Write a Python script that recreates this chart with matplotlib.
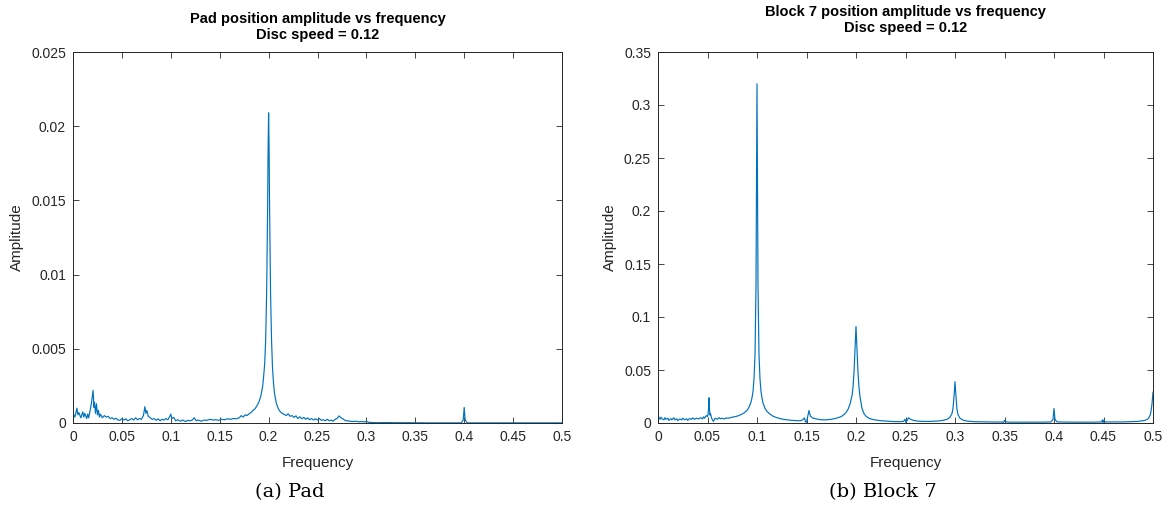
import matplotlib
matplotlib.use("Agg")
import matplotlib.pyplot as plt

# ---------------- data ----------------
pad_freq = [0.000, 0.002, 0.004, 0.005, 0.006, 0.008, 0.010, 0.011, 0.012, 0.014, 0.015, 0.016,
            0.018, 0.019, 0.0205, 0.0215, 0.022, 0.023, 0.024, 0.025, 0.026, 0.027, 0.028, 0.030,
            0.032, 0.034, 0.036, 0.038, 0.040, 0.042, 0.044, 0.046, 0.048, 0.050, 0.052, 0.054,
            0.056, 0.058, 0.060, 0.062, 0.064, 0.066, 0.068, 0.070, 0.072, 0.0735, 0.0745, 0.0755,
            0.077, 0.079, 0.081, 0.083, 0.085, 0.087, 0.089, 0.091, 0.093, 0.095, 0.097, 0.099,
            0.100, 0.101, 0.103, 0.105, 0.107, 0.110, 0.112, 0.115, 0.118, 0.120, 0.122, 0.124,
            0.126, 0.128, 0.131, 0.134, 0.137, 0.140, 0.143, 0.146, 0.149, 0.152, 0.155, 0.158,
            0.161, 0.164, 0.167, 0.170, 0.172, 0.174, 0.176, 0.178, 0.180, 0.182, 0.184, 0.186,
            0.188, 0.190, 0.192, 0.194, 0.195, 0.196, 0.197, 0.198, 0.199, 0.1995, 0.200, 0.2005,
            0.201, 0.202, 0.203, 0.204, 0.205, 0.206, 0.208, 0.210, 0.212, 0.214, 0.216, 0.218,
            0.220, 0.222, 0.224, 0.226, 0.228, 0.230, 0.232, 0.234, 0.236, 0.238, 0.240, 0.242,
            0.244, 0.246, 0.248, 0.250, 0.252, 0.254, 0.256, 0.258, 0.260, 0.262, 0.264, 0.266,
            0.268, 0.270, 0.272, 0.274, 0.276, 0.278, 0.280, 0.283, 0.286, 0.289, 0.292, 0.295,
            0.298, 0.300, 0.303, 0.306, 0.310, 0.320, 0.330, 0.340, 0.360, 0.380, 0.397, 0.399,
            0.400, 0.401, 0.403, 0.450, 0.500]
pad_amp = [0.00065, 0.00040, 0.00100, 0.00055, 0.00070, 0.00035, 0.00075, 0.00040, 0.00065, 0.00030, 0.00060, 0.00035,
           0.00100, 0.00140, 0.00220, 0.00105, 0.00140, 0.00065, 0.00130, 0.00055, 0.00085, 0.00040, 0.00060, 0.00035,
           0.00050, 0.00040, 0.00045, 0.00030, 0.00035, 0.00025, 0.00032, 0.00020, 0.00018, 0.00030, 0.00020, 0.00028,
           0.00015, 0.00022, 0.00030, 0.00020, 0.00035, 0.00022, 0.00030, 0.00025, 0.00050, 0.00110, 0.00065, 0.00085,
           0.00045, 0.00035, 0.00025, 0.00030, 0.00018, 0.00028, 0.00015, 0.00025, 0.00020, 0.00030, 0.00022, 0.00045,
           0.00060, 0.00030, 0.00038, 0.00015, 0.00022, 0.00012, 0.00020, 0.00010, 0.00018, 0.00015, 0.00020, 0.00035,
           0.00015, 0.00020, 0.00012, 0.00020, 0.00018, 0.00025, 0.00020, 0.00022, 0.00018, 0.00025, 0.00022, 0.00028,
           0.00025, 0.00030, 0.00028, 0.00035, 0.00050, 0.00040, 0.00055, 0.00050, 0.00062, 0.00070, 0.00085, 0.00095,
           0.00115, 0.00140, 0.00180, 0.00250, 0.00320, 0.00400, 0.00560, 0.00880, 0.01450, 0.01850, 0.02090, 0.01850,
           0.01450, 0.00880, 0.00560, 0.00370, 0.00270, 0.00200, 0.00130, 0.00095, 0.00075, 0.00065, 0.00058, 0.00050,
           0.00062, 0.00045, 0.00050, 0.00038, 0.00048, 0.00030, 0.00042, 0.00028, 0.00038, 0.00025, 0.00035, 0.00022,
           0.00030, 0.00020, 0.00028, 0.00020, 0.00030, 0.00018, 0.00022, 0.00015, 0.00025, 0.00015, 0.00020, 0.00012,
           0.00025, 0.00030, 0.00048, 0.00035, 0.00028, 0.00018, 0.00015, 0.00012, 0.00010, 0.00012, 0.00008, 0.00010,
           0.00008, 0.00010, 0.00004, 0.00003, 0.00002, 0.00003, 0.00002, 0.00002, 0.00001, 0.00001, 0.00001, 0.00020,
           0.00105, 0.00020, 0.00001, 0.00001, 0.00001]

block_freq = [0.000, 0.001, 0.002, 0.003, 0.004, 0.006, 0.007, 0.008, 0.010, 0.011, 0.013, 0.014,
              0.016, 0.017, 0.019, 0.020, 0.022, 0.024, 0.025, 0.027, 0.029, 0.030, 0.032, 0.034,
              0.035, 0.037, 0.039, 0.041, 0.043, 0.045, 0.046, 0.047, 0.048, 0.049, 0.050, 0.0505,
              0.051, 0.0515, 0.052, 0.0525, 0.053, 0.054, 0.055, 0.056, 0.057, 0.058, 0.060, 0.062,
              0.063, 0.065, 0.067, 0.069, 0.071, 0.073, 0.075, 0.078, 0.081, 0.084, 0.087, 0.090,
              0.092, 0.094, 0.095, 0.096, 0.097, 0.098, 0.099, 0.0995, 0.100, 0.1005, 0.101, 0.102,
              0.103, 0.104, 0.105, 0.106, 0.108, 0.110, 0.113, 0.116, 0.120, 0.125, 0.130, 0.135,
              0.140, 0.144, 0.146, 0.148, 0.149, 0.150, 0.151, 0.1525, 0.154, 0.156, 0.160, 0.165,
              0.170, 0.175, 0.180, 0.185, 0.188, 0.190, 0.192, 0.194, 0.196, 0.197, 0.198, 0.199,
              0.200, 0.201, 0.202, 0.203, 0.204, 0.206, 0.208, 0.210, 0.213, 0.216, 0.220, 0.225,
              0.230, 0.235, 0.240, 0.245, 0.248, 0.2495, 0.2505, 0.252, 0.253, 0.255, 0.258, 0.262,
              0.268, 0.275, 0.282, 0.288, 0.292, 0.295, 0.297, 0.298, 0.299, 0.300, 0.301, 0.302,
              0.303, 0.305, 0.308, 0.312, 0.320, 0.330, 0.340, 0.348, 0.349, 0.350, 0.351, 0.355,
              0.370, 0.390, 0.397, 0.399, 0.400, 0.401, 0.403, 0.420, 0.440, 0.448, 0.449, 0.4495,
              0.450, 0.452, 0.470, 0.485, 0.492, 0.495, 0.497, 0.498, 0.499, 0.500]
block_amp = [0.0080, 0.0050, 0.0035, 0.0055, 0.0040, 0.0030, 0.0050, 0.0035, 0.0045, 0.0025, 0.0040, 0.0030,
             0.0050, 0.0030, 0.0040, 0.0022, 0.0038, 0.0030, 0.0045, 0.0030, 0.0040, 0.0025, 0.0042, 0.0035,
             0.0048, 0.0035, 0.0045, 0.0038, 0.0050, 0.0040, 0.0058, 0.0045, 0.0062, 0.0070, 0.0060, 0.0080,
             0.0130, 0.0238, 0.0130, 0.0075, 0.0090, 0.0050, 0.0030, 0.0015, 0.0035, 0.0045, 0.0035, 0.0050,
             0.0040, 0.0045, 0.0038, 0.0048, 0.0045, 0.0050, 0.0055, 0.0060, 0.0068, 0.0080, 0.0095, 0.0120,
             0.0150, 0.0200, 0.0240, 0.0300, 0.0420, 0.0650, 0.1300, 0.2300, 0.3200, 0.2300, 0.1300, 0.0650,
             0.0420, 0.0300, 0.0240, 0.0190, 0.0140, 0.0110, 0.0085, 0.0065, 0.0050, 0.0038, 0.0030, 0.0025,
             0.0022, 0.0022, 0.0030, 0.0048, 0.0010, 0.0008, 0.0050, 0.0118, 0.0065, 0.0048, 0.0038, 0.0030,
             0.0030, 0.0035, 0.0045, 0.0060, 0.0080, 0.0100, 0.0130, 0.0180, 0.0260, 0.0340, 0.0480, 0.0700,
             0.0910, 0.0700, 0.0480, 0.0340, 0.0250, 0.0140, 0.0090, 0.0065, 0.0045, 0.0035, 0.0028, 0.0022,
             0.0018, 0.0015, 0.0013, 0.0013, 0.0015, 0.0035, 0.0005, 0.0030, 0.0050, 0.0035, 0.0025, 0.0018,
             0.0015, 0.0015, 0.0018, 0.0025, 0.0035, 0.0055, 0.0090, 0.0140, 0.0250, 0.0390, 0.0250, 0.0130,
             0.0080, 0.0045, 0.0028, 0.0018, 0.0012, 0.0010, 0.0009, 0.0009, 0.0005, 0.0025, 0.0012, 0.0008,
             0.0008, 0.0008, 0.0010, 0.0035, 0.0137, 0.0035, 0.0010, 0.0008, 0.0008, 0.0010, 0.0030, 0.0005,
             0.0025, 0.0010, 0.0010, 0.0015, 0.0025, 0.0040, 0.0070, 0.0110, 0.0180, 0.0290]

x_ticks = [0, 0.05, 0.1, 0.15, 0.2, 0.25, 0.3, 0.35, 0.4, 0.45, 0.5]
x_ticklabels = ["0", "0.05", "0.1", "0.15", "0.2", "0.25", "0.3", "0.35", "0.4", "0.45", "0.5"]
pad_yticks = [0, 0.005, 0.01, 0.015, 0.02, 0.025]
pad_yticklabels = ["0", "0.005", "0.01", "0.015", "0.02", "0.025"]
block_yticks = [0, 0.05, 0.1, 0.15, 0.2, 0.25, 0.3, 0.35]
block_yticklabels = ["0", "0.05", "0.1", "0.15", "0.2", "0.25", "0.3", "0.35"]

pad_title = "Pad position amplitude vs frequency"
block_title = "Block 7 position amplitude vs frequency"
subtitle = "Disc speed = 0.12"
pad_caption = "(a) Pad"
block_caption = "(b) Block 7"

# ---------------- style ----------------
LINE = "#0072BD"
AX = "#262626"
plt.rcParams["font.family"] = ["Liberation Sans", "DejaVu Sans"]

W, H = 1169, 512
fig = plt.figure(figsize=(W / 100, H / 100), dpi=100)


def px_axes(x0, x1, y0, y1):
    return fig.add_axes([x0 / W, 1 - y1 / H, (x1 - x0) / W, (y1 - y0) / H])


def style(ax, ymax, yticks, yticklabels):
    ax.set_xlim(0, 0.5)
    ax.set_ylim(0, ymax)
    ax.set_xticks(x_ticks)
    ax.set_xticklabels(x_ticklabels)
    ax.set_yticks(yticks)
    ax.set_yticklabels(yticklabels)
    ax.tick_params(direction="in", top=True, right=True, length=4.5, width=0.6,
                   color=AX, labelcolor=AX, labelsize=10, pad=5)
    for s in ax.spines.values():
        s.set_color(AX)
        s.set_linewidth(0.7)
    ax.set_xlabel("Frequency", fontsize=11, color=AX, labelpad=9)
    ax.set_ylabel("Amplitude", fontsize=11, color=AX, labelpad=5)


ax1 = px_axes(73, 562, 52, 423)
ax1.plot(pad_freq, pad_amp, color=LINE, lw=0.85)
style(ax1, 0.025, pad_yticks, pad_yticklabels)

ax2 = px_axes(658, 1153, 52, 423)
ax2.plot(block_freq, block_amp, color=LINE, lw=0.85)
style(ax2, 0.35, block_yticks, block_yticklabels)

# titles (two lines, bold)
for xc, t, y1 in [((73 + 562) / 2, pad_title, 19), ((658 + 1153) / 2, block_title, 12)]:
    fig.text(xc / W, 1 - y1 / H, t, ha="center", va="center", fontsize=10.5,
             fontweight="bold", color="black")
    fig.text(xc / W, 1 - (y1 + 16) / H, subtitle, ha="center", va="center", fontsize=10.5,
             fontweight="bold", color="black")

# captions (centred under each exported figure, not under the axes)
fig.text(290 / W, 1 - 492 / H, pad_caption, ha="center", va="center", fontsize=14,
         family=["DejaVu Serif"], color="black")
fig.text(883 / W, 1 - 492 / H, block_caption, ha="center", va="center", fontsize=14,
         family=["DejaVu Serif"], color="black")

fig.savefig("out.png", dpi=100)
